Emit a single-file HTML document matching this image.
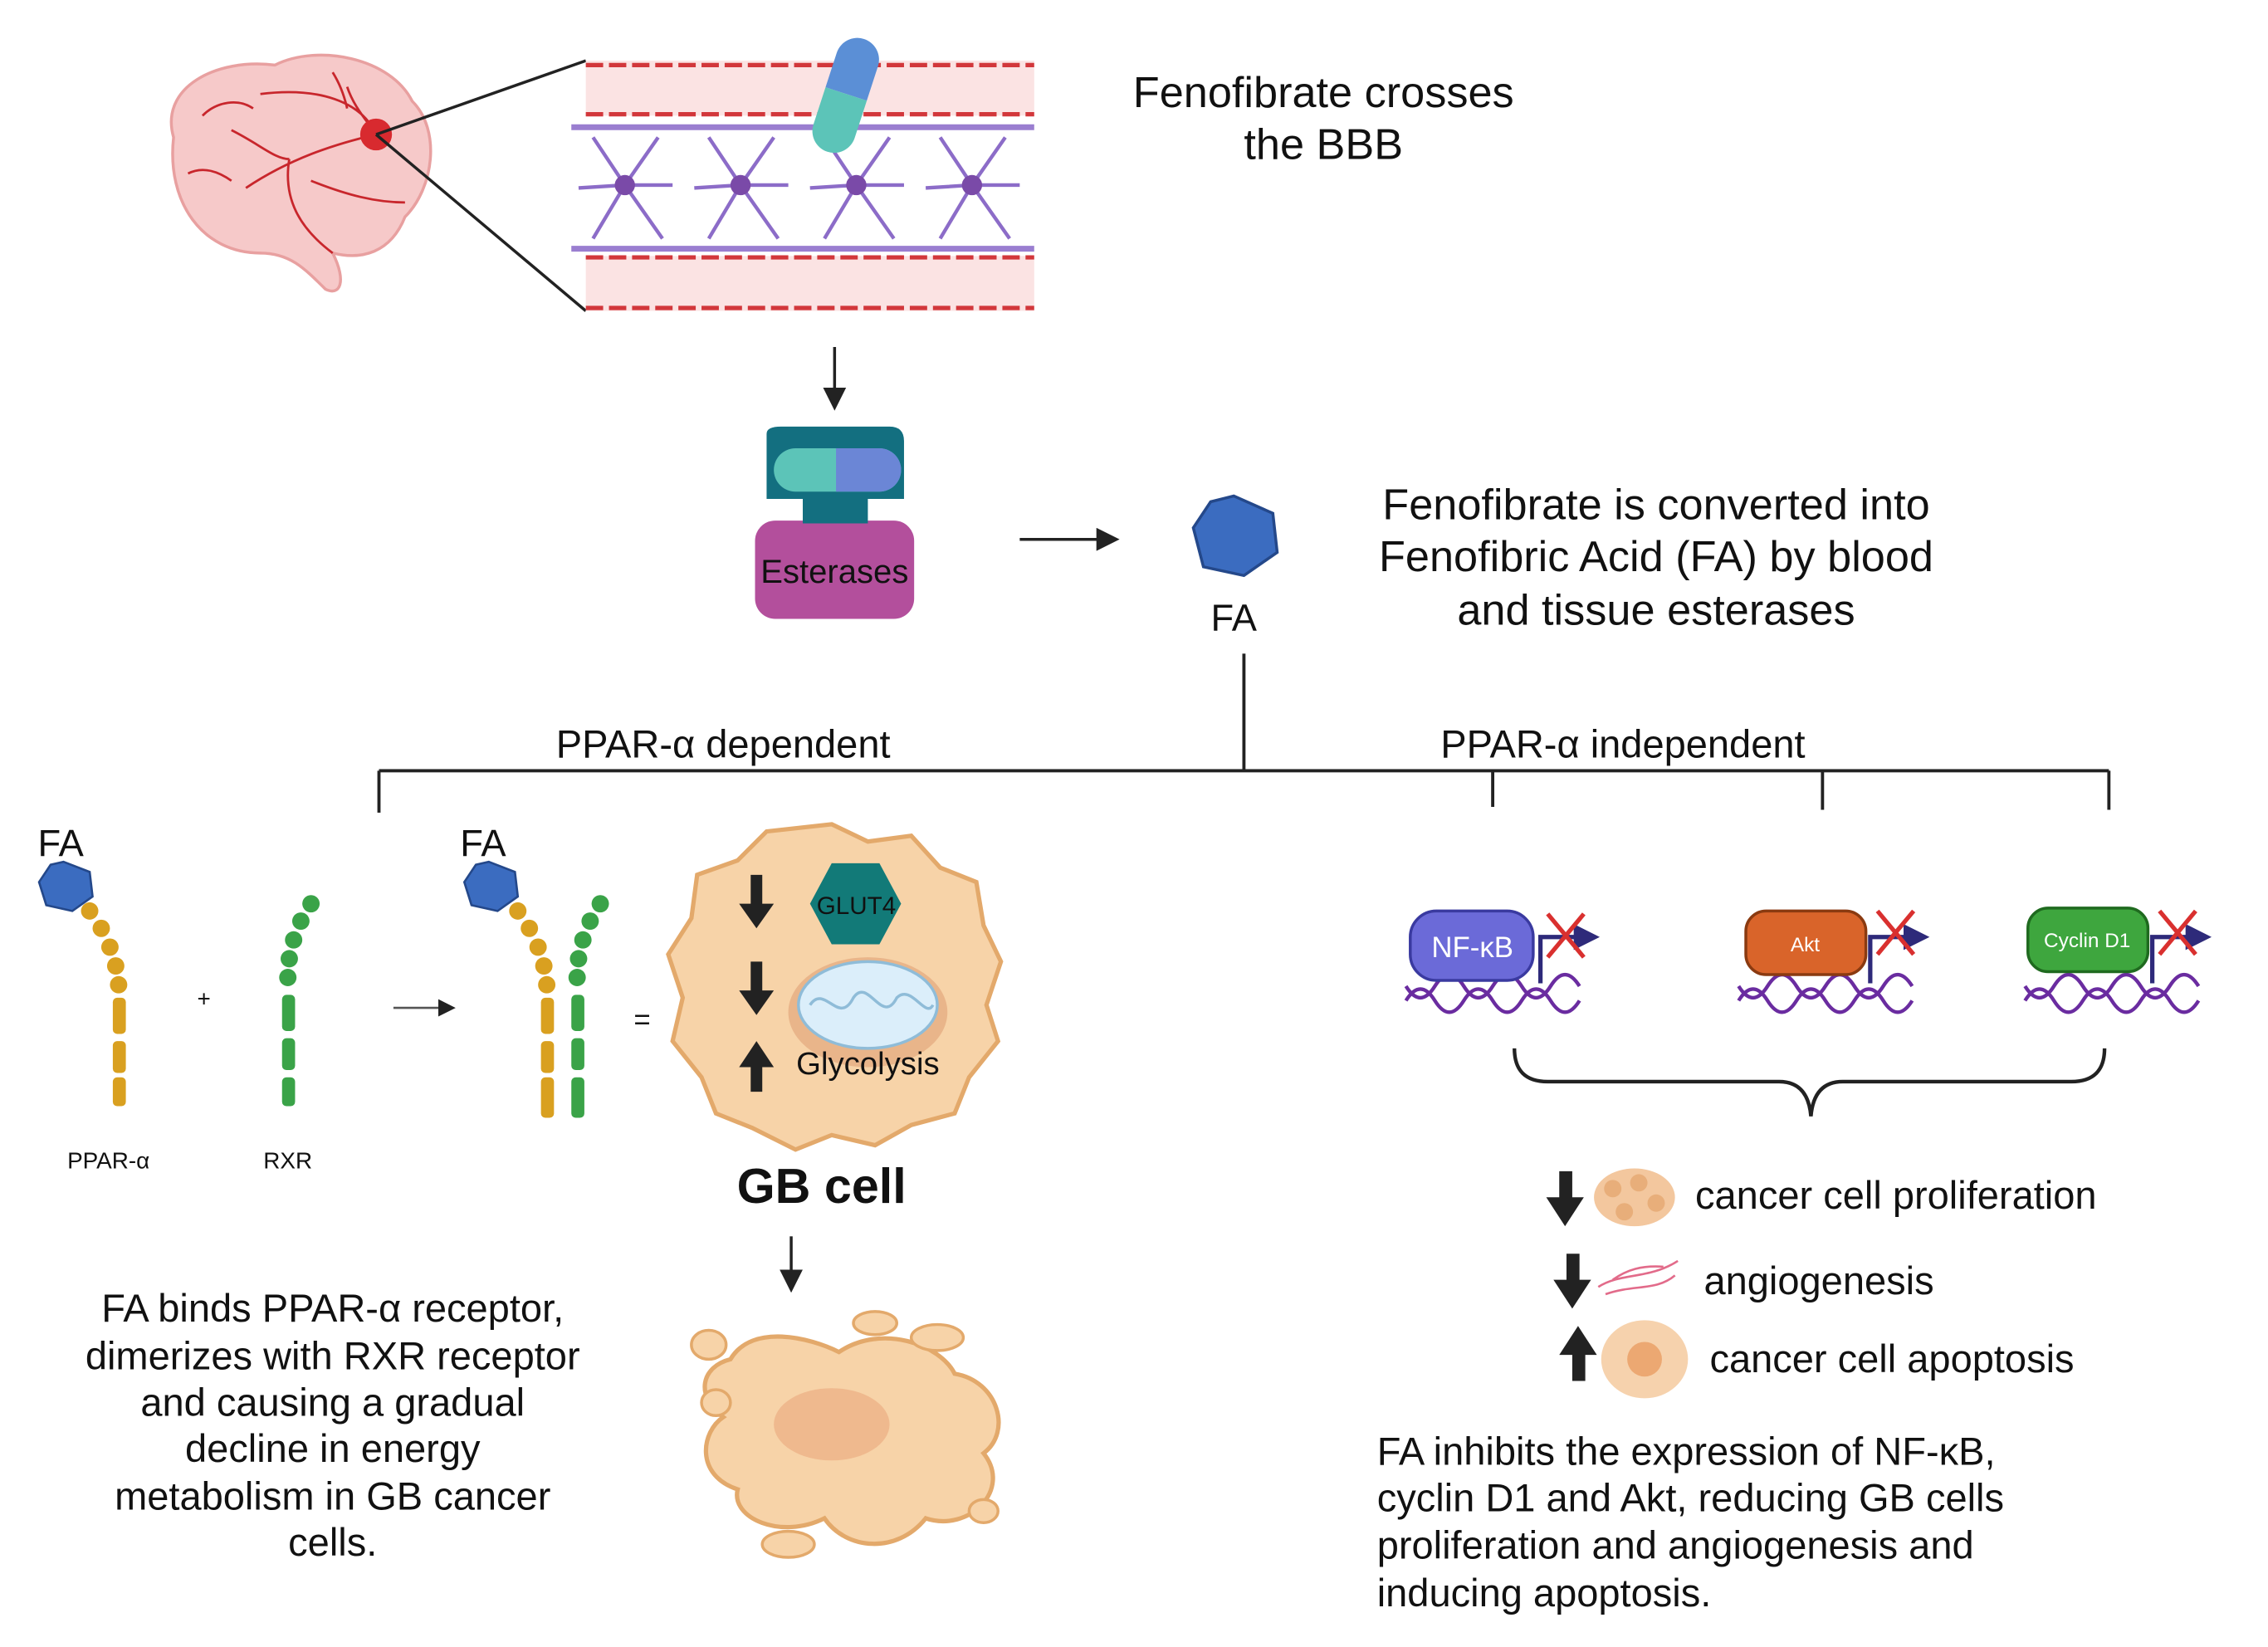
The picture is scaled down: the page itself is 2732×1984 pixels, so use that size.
<!DOCTYPE html>
<html><head><meta charset="utf-8"><style>
html,body{margin:0;padding:0;background:#fff;}
svg{display:block;}
text{font-family:"Liberation Sans",sans-serif;fill:#111;}
</style></head><body>
<svg width="2732" height="1984" viewBox="0 0 1568 1139" preserveAspectRatio="none" xmlns="http://www.w3.org/2000/svg">
<defs>
<marker id="ah" markerWidth="8" markerHeight="8" refX="6" refY="4" orient="auto"><path d="M0,0 L8,4 L0,8 z" fill="#222"/></marker>
<marker id="pa" markerWidth="6" markerHeight="6" refX="4" refY="3" orient="auto"><path d="M0,0 L6,3 L0,6 z" fill="#2e2a7a"/></marker>
</defs>
<!-- brain -->
<path d="M120,95 C110,60 150,40 190,45 C220,30 270,40 285,70 C305,90 300,130 280,150 C270,175 250,180 230,175 C240,195 235,205 225,200 C210,185 200,175 180,175 C140,175 115,140 120,95 Z" fill="#f6c9c9" stroke="#e8a0a0" stroke-width="2"/>
<g stroke="#c8262c" stroke-width="1.6" fill="none">
<path d="M260,93 C230,100 200,110 170,130 M200,110 C195,140 210,160 230,175 M260,93 C250,70 220,60 180,65 M215,125 C240,135 260,140 280,140 M160,90 C180,100 190,110 200,110 M240,60 C245,75 255,85 260,93 M140,80 C150,70 165,68 175,75 M130,120 C140,115 150,118 160,125 M230,50 C235,58 238,66 240,75"/>
</g>
<circle cx="260" cy="93" r="11" fill="#d82a2f"/>
<line x1="260" y1="93" x2="405" y2="42" stroke="#222" stroke-width="2"/>
<line x1="260" y1="93" x2="405" y2="215" stroke="#222" stroke-width="2"/>
<!-- vessel -->
<rect x="405" y="42" width="310" height="38" fill="#fbe3e3"/>
<rect x="405" y="177" width="310" height="38" fill="#fbe3e3"/>
<g stroke="#d2373b" stroke-width="3" stroke-dasharray="12,4">
<line x1="405" y1="45" x2="715" y2="45"/><line x1="405" y1="79" x2="715" y2="79"/>
<line x1="405" y1="178" x2="715" y2="178"/><line x1="405" y1="213" x2="715" y2="213"/>
</g>
<line x1="395" y1="88" x2="715" y2="88" stroke="#9a7ed0" stroke-width="4"/>
<line x1="395" y1="172" x2="715" y2="172" stroke="#9a7ed0" stroke-width="4"/>
<g stroke="#8c6cc8" stroke-width="2.5" fill="none">
<path d="M432,128 L410,95 M432,128 L455,95 M432,128 L410,165 M432,128 L458,165 M432,128 L400,130 M432,128 L465,128"/>
<path d="M512,128 L490,95 M512,128 L535,95 M512,128 L490,165 M512,128 L538,165 M512,128 L480,130 M512,128 L545,128"/>
<path d="M592,128 L570,95 M592,128 L615,95 M592,128 L570,165 M592,128 L618,165 M592,128 L560,130 M592,128 L625,128"/>
<path d="M672,128 L650,95 M672,128 L695,95 M672,128 L650,165 M672,128 L698,165 M672,128 L640,130 M672,128 L705,128"/>
</g>
<g fill="#7a4aa8"><circle cx="432" cy="128" r="7"/><circle cx="512" cy="128" r="7"/><circle cx="592" cy="128" r="7"/><circle cx="672" cy="128" r="7"/></g>
<g transform="rotate(18 585 65)">
<path d="M570,65 L570,40 A15,15 0 0 1 600,40 L600,65 Z" fill="#5b8fd6"/>
<path d="M570,65 L570,92 A15,15 0 0 0 600,92 L600,65 Z" fill="#5cc4b8"/>
</g>
<text x="915" y="74" font-size="30" text-anchor="middle">Fenofibrate crosses</text>
<text x="915" y="110" font-size="30" text-anchor="middle">the BBB</text>
<line x1="577" y1="240" x2="577" y2="280" stroke="#222" stroke-width="2" marker-end="url(#ah)"/>
<!-- esterases -->
<rect x="522" y="360" width="110" height="68" rx="14" fill="#b34f9c"/>
<path d="M530,300 Q530,295 540,295 L615,295 Q625,295 625,305 L625,345 L600,345 L600,362 L555,362 L555,345 L530,345 Z" fill="#136f80"/>
<rect x="535" y="310" width="88" height="30" rx="15" fill="#5cc4b8"/>
<path d="M578,310 L608,310 A15,15 0 0 1 608,340 L578,340 Z" fill="#6b86d6"/>
<text x="577" y="403" font-size="23" text-anchor="middle">Esterases</text>
<line x1="705" y1="373" x2="770" y2="373" stroke="#222" stroke-width="2" marker-end="url(#ah)"/>
<polygon points="853,343 880,355 883,382 860,398 832,392 825,365 837,347" fill="#3b6cc0" stroke="#24488a" stroke-width="2"/>
<text x="853" y="436" font-size="26" text-anchor="middle">FA</text>
<text x="1145" y="359" font-size="30" text-anchor="middle">Fenofibrate is converted into</text>
<text x="1145" y="395" font-size="30" text-anchor="middle">Fenofibric Acid (FA) by blood</text>
<text x="1145" y="432" font-size="30" text-anchor="middle">and tissue esterases</text>
<!-- tree -->
<g stroke="#222" stroke-width="2.2" fill="none">
<line x1="860" y1="452" x2="860" y2="533"/>
<line x1="262" y1="533" x2="1458" y2="533"/>
<line x1="262" y1="533" x2="262" y2="562"/>
<line x1="1032" y1="533" x2="1032" y2="558"/>
<line x1="1260" y1="533" x2="1260" y2="560"/>
<line x1="1458" y1="533" x2="1458" y2="560"/>
</g>
<text x="500" y="524" font-size="27" text-anchor="middle">PPAR-α  dependent</text>
<text x="1122" y="524" font-size="27" text-anchor="middle">PPAR-α  independent</text>
<!-- left receptors -->
<text x="42" y="592" font-size="26" text-anchor="middle">FA</text>
<polygon points="44,596 62,603 64,620 50,630 32,626 27,610 35,598" fill="#3b6cc0" stroke="#24488a" stroke-width="1.5"/>
<g fill="#d9a020">
<circle cx="62" cy="630" r="6"/><circle cx="70" cy="642" r="6"/><circle cx="76" cy="655" r="6"/><circle cx="80" cy="668" r="6"/><circle cx="82" cy="681" r="6"/>
<rect x="78" y="690" width="9" height="25" rx="3"/><rect x="78" y="720" width="9" height="22" rx="3"/><rect x="78" y="745" width="9" height="20" rx="3"/>
</g>
<text x="141" y="696" font-size="16" text-anchor="middle">+</text>
<g fill="#3aa348">
<circle cx="215" cy="625" r="6"/><circle cx="208" cy="637" r="6"/><circle cx="203" cy="650" r="6"/><circle cx="200" cy="663" r="6"/><circle cx="199" cy="676" r="6"/>
<rect x="195" y="688" width="9" height="25" rx="3"/><rect x="195" y="718" width="9" height="22" rx="3"/><rect x="195" y="745" width="9" height="20" rx="3"/>
</g>
<text x="75" y="808" font-size="16" text-anchor="middle">PPAR-α</text>
<text x="199" y="808" font-size="16" text-anchor="middle">RXR</text>
<line x1="272" y1="697" x2="312" y2="697" stroke="#555" stroke-width="1.5" marker-end="url(#ah)"/>
<text x="334" y="592" font-size="26" text-anchor="middle">FA</text>
<polygon points="338,596 356,603 358,620 344,630 326,626 321,610 329,598" fill="#3b6cc0" stroke="#24488a" stroke-width="1.5"/>
<g fill="#d9a020">
<circle cx="358" cy="630" r="6"/><circle cx="366" cy="642" r="6"/><circle cx="372" cy="655" r="6"/><circle cx="376" cy="668" r="6"/><circle cx="378" cy="681" r="6"/>
<rect x="374" y="690" width="9" height="25" rx="3"/><rect x="374" y="720" width="9" height="22" rx="3"/><rect x="374" y="745" width="9" height="28" rx="3"/>
</g>
<g fill="#3aa348">
<circle cx="415" cy="625" r="6"/><circle cx="408" cy="637" r="6"/><circle cx="403" cy="650" r="6"/><circle cx="400" cy="663" r="6"/><circle cx="399" cy="676" r="6"/>
<rect x="395" y="688" width="9" height="25" rx="3"/><rect x="395" y="718" width="9" height="22" rx="3"/><rect x="395" y="745" width="9" height="28" rx="3"/>
</g>
<text x="444" y="712" font-size="20" text-anchor="middle">=</text>
<!-- GB cell -->
<path d="M575,570 L600,582 L630,578 L650,600 L675,610 L680,640 L692,665 L682,695 L690,720 L670,745 L660,770 L630,778 L605,792 L575,785 L550,795 L520,780 L495,770 L485,745 L465,720 L472,690 L462,660 L478,635 L482,605 L510,595 L530,575 Z" fill="#f7d3a8" stroke="#e3a96b" stroke-width="3"/>
<ellipse cx="600" cy="700" rx="55" ry="38" fill="#e9b58a"/>
<ellipse cx="600" cy="695" rx="48" ry="30" fill="#dbeefa" stroke="#8fbcd8" stroke-width="2"/>
<path d="M560,695 C570,680 580,710 590,690 C600,675 610,710 620,690 C630,680 640,705 645,695" stroke="#8fbcd8" stroke-width="2" fill="none"/>
<polygon points="575,597 608,597 623,625 608,653 575,653 560,625" fill="#127a78"/>
<text x="592" y="632" font-size="17" text-anchor="middle">GLUT4</text>
<g fill="#222">
<path d="M519,605 L527,605 L527,625 L535,625 L523,642 L511,625 L519,625 Z"/>
<path d="M519,665 L527,665 L527,685 L535,685 L523,702 L511,685 L519,685 Z"/>
<path d="M519,755 L527,755 L527,738 L535,738 L523,720 L511,738 L519,738 Z"/>
</g>
<text x="600" y="743" font-size="22" text-anchor="middle">Glycolysis</text>
<text x="568" y="832" font-size="34" font-weight="bold" text-anchor="middle">GB cell</text>
<line x1="547" y1="855" x2="547" y2="890" stroke="#222" stroke-width="2" marker-end="url(#ah)"/>
<path d="M505,940 C520,915 560,925 580,935 C610,915 650,930 660,950 C690,955 700,990 680,1005 C700,1030 670,1060 640,1050 C620,1075 585,1072 570,1050 C540,1065 505,1050 510,1030 C480,1020 485,990 500,980 C480,965 485,945 505,940 Z" fill="#f7d3a8" stroke="#e3a96b" stroke-width="3"/>
<ellipse cx="575" cy="985" rx="40" ry="25" fill="#efb98e"/>
<g fill="#f7d3a8" stroke="#e3a96b" stroke-width="2">
<ellipse cx="605" cy="915" rx="15" ry="8"/><ellipse cx="648" cy="925" rx="18" ry="9"/><ellipse cx="490" cy="930" rx="12" ry="10"/><ellipse cx="495" cy="970" rx="10" ry="9"/><ellipse cx="545" cy="1068" rx="18" ry="9"/><ellipse cx="680" cy="1045" rx="10" ry="8"/>
</g>
<g font-size="27" text-anchor="middle">
<text x="230" y="914">FA  binds  PPAR-α receptor,</text>
<text x="230" y="947">dimerizes with RXR receptor</text>
<text x="230" y="979">and  causing a  gradual</text>
<text x="230" y="1011">decline in energy</text>
<text x="230" y="1044">metabolism in GB cancer</text>
<text x="230" y="1076">cells.</text>
</g>
<!-- genes -->
<g stroke="#6a2ca0" stroke-width="2.5" fill="none">
<path d="M972,692 q10,-16 20,0 t20,0 t20,0 t20,0 t20,0 t20,0"/>
<path d="M972,682 q10,16 20,0 t20,0 t20,0 t20,0 t20,0 t20,0"/>
<path d="M1202,692 q10,-16 20,0 t20,0 t20,0 t20,0 t20,0 t20,0"/>
<path d="M1202,682 q10,16 20,0 t20,0 t20,0 t20,0 t20,0 t20,0"/>
<path d="M1400,692 q10,-16 20,0 t20,0 t20,0 t20,0 t20,0 t20,0"/>
<path d="M1400,682 q10,16 20,0 t20,0 t20,0 t20,0 t20,0 t20,0"/>
</g>
<rect x="975" y="630" width="85" height="48" rx="18" fill="#6b6ad8" stroke="#3a3aa0" stroke-width="2"/>
<text x="1018" y="662" font-size="20" style="fill:#fff" text-anchor="middle">NF-κB</text>
<rect x="1207" y="630" width="83" height="44" rx="14" fill="#d9642a" stroke="#8a3a10" stroke-width="2"/>
<text x="1248" y="658" font-size="14" style="fill:#fff" text-anchor="middle">Akt</text>
<rect x="1402" y="628" width="83" height="44" rx="14" fill="#3ea63e" stroke="#1f6a1f" stroke-width="2"/>
<text x="1443" y="655" font-size="14" style="fill:#fff" text-anchor="middle">Cyclin D1</text>
<g stroke="#2e2a7a" stroke-width="3" fill="none">
<path d="M1065,680 L1065,648 L1100,648" marker-end="url(#pa)"/>
<path d="M1293,680 L1293,648 L1328,648" marker-end="url(#pa)"/>
<path d="M1488,680 L1488,648 L1523,648" marker-end="url(#pa)"/>
</g>
<g stroke="#d9302f" stroke-width="3">
<line x1="1070" y1="632" x2="1095" y2="662"/><line x1="1095" y1="632" x2="1070" y2="662"/>
<line x1="1298" y1="630" x2="1323" y2="660"/><line x1="1323" y1="630" x2="1298" y2="660"/>
<line x1="1493" y1="630" x2="1518" y2="660"/><line x1="1518" y1="630" x2="1493" y2="660"/>
</g>
<path d="M1047,725 Q1047,748 1070,748 L1230,748 Q1250,748 1252,772 Q1254,748 1274,748 L1432,748 Q1455,748 1455,725" stroke="#222" stroke-width="2.5" fill="none"/>
<!-- legend -->
<g fill="#222">
<path d="M1078,810 L1087,810 L1087,828 L1095,828 L1082,848 L1069,828 L1078,828 Z"/>
<path d="M1083,867 L1092,867 L1092,885 L1100,885 L1087,905 L1074,885 L1083,885 Z"/>
<path d="M1087,955 L1096,955 L1096,937 L1104,937 L1091,917 L1078,937 L1087,937 Z"/>
</g>
<ellipse cx="1130" cy="828" rx="28" ry="20" fill="#f3c79e"/>
<g fill="#e8ae7a"><circle cx="1115" cy="822" r="6"/><circle cx="1133" cy="818" r="6"/><circle cx="1145" cy="832" r="6"/><circle cx="1123" cy="838" r="6"/></g>
<path d="M1105,890 C1120,880 1140,885 1160,872 M1110,895 C1130,888 1145,893 1158,882 M1115,885 C1125,878 1135,875 1150,876" stroke="#e26b8a" stroke-width="1.5" fill="none"/>
<ellipse cx="1137" cy="940" rx="30" ry="27" fill="#f6d2ad"/>
<circle cx="1137" cy="940" r="12" fill="#eca872"/>
<g font-size="27">
<text x="1172" y="836">cancer cell proliferation</text>
<text x="1178" y="895">angiogenesis</text>
<text x="1182" y="949">cancer cell apoptosis</text>
<text x="952" y="1013">FA inhibits the expression of NF-κB,</text>
<text x="952" y="1045">cyclin D1 and Akt,  reducing  GB  cells</text>
<text x="952" y="1078">proliferation and angiogenesis and</text>
<text x="952" y="1111">inducing apoptosis.</text>
</g>
</svg>
</body></html>
